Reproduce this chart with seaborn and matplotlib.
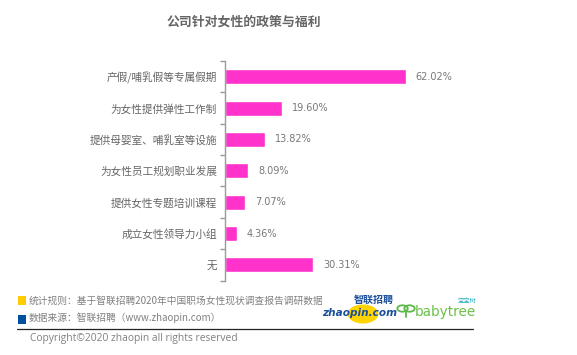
import matplotlib
matplotlib.use("Agg")
import matplotlib.pyplot as plt
import seaborn as sns
import pandas as pd
from matplotlib.patches import Rectangle, Circle
from matplotlib.lines import Line2D

categories = ["产假/哺乳假等专属假期", "为女性提供弹性工作制", "提供母婴室、哺乳室等设施",
              "为女性员工规划职业发展", "提供女性专题培训课程", "成立女性领导力小组", "无"]
values = [62.02, 19.60, 13.82, 8.09, 7.07, 4.36, 30.31]
value_labels = ["62.02%", "19.60%", "13.82%", "8.09%", "7.07%", "4.36%", "30.31%"]

title = "公司针对女性的政策与福利"
note1 = "统计规则：基于智联招聘2020年中国职场女性现状调查报告调研数据"
note2 = "数据来源：智联招聘（www.zhaopin.com）"
copyright_text = "Copyright©2020 zhaopin all rights reserved"

sns.set_theme(style="white")
plt.rcParams['font.family'] = ['Noto Sans CJK SC', 'DejaVu Sans']

W, H = 577, 355
fig = plt.figure(figsize=(W / 100, H / 100), dpi=100)

def fx(x):
    return x / W

def fy(y):
    return 1 - y / H

left_px, right_px, top_px, bottom_px = 224.5, 517.0, 61.0, 280.6
ax = fig.add_axes([fx(left_px), fy(bottom_px), fx(right_px - left_px), (bottom_px - top_px) / H])

df = pd.DataFrame({"category": categories, "value": values})
sns.barplot(data=df, y="category", x="value", orient="h", color="#FF33CC",
            saturation=1, width=0.48, ax=ax)

ax.set_xlim(0, 100)
ax.set_ylim(len(categories) - 0.5, -0.5)
ax.set_xlabel("")
ax.set_ylabel("")
ax.set_xticks([])
for s in ["top", "right", "bottom"]:
    ax.spines[s].set_visible(False)
ax.spines["left"].set_color("#9a9a9a")
ax.spines["left"].set_linewidth(1.0)

ax.set_yticks(range(len(categories)))
ax.set_yticklabels(categories, fontsize=7.7, color="#666666")
ax.tick_params(axis="y", which="major", length=0, pad=5.5)
ax.set_yticks([i - 0.5 for i in range(len(categories) + 1)], minor=True)
ax.tick_params(axis="y", which="minor", length=3.5, width=1.0, color="#9a9a9a", left=True)

for i, (v, lab) in enumerate(zip(values, value_labels)):
    ax.annotate(lab, xy=(v, i), xytext=(7, 0), textcoords="offset points",
                ha="left", va="center", fontsize=7, color="#777777",
                family=["DejaVu Sans"])

fig.text(fx(244), fy(22), title, ha="center", va="center", fontsize=9.3,
         fontweight="bold", color="#666666")

# footer
fig.patches.append(Rectangle((fx(17.5), fy(304.5)), fx(8.5), 8.5 / H, transform=fig.transFigure,
                             facecolor="#FFCC00", edgecolor="none"))
fig.patches.append(Rectangle((fx(17.5), fy(323.5)), fx(8.5), 8.5 / H, transform=fig.transFigure,
                             facecolor="#0050A0", edgecolor="none"))
fig.text(fx(29), fy(300.5), note1, ha="left", va="center", fontsize=7.0, color="#808080")
fig.text(fx(29), fy(318), note2, ha="left", va="center", fontsize=7.0, color="#808080")
fig.lines.append(Line2D([fx(17), fx(473)], [fy(328.5), fy(328.5)], transform=fig.transFigure,
                        color="#222222", linewidth=0.9))
fig.text(fx(30), fy(338), copyright_text, ha="left", va="center", fontsize=7.4,
         color="#808080", family=["Open Sans", "DejaVu Sans"])

# logos (approximation)
fig.patches.append(Circle((fx(363), fy(314)), 9.5 / H, transform=fig.transFigure,
                          facecolor="#FFD400", edgecolor="none"))
fig.text(fx(374), fy(300), "智联招聘", ha="center", va="center", fontsize=7.2,
         fontweight="bold", color="#1B4F9B", style="italic")
fig.text(fx(360), fy(312.5), "zhaopin.com", ha="center", va="center", fontsize=7.6,
         fontweight="bold", color="#1B4F9B", style="italic", family=["DejaVu Sans"])
# babytree icon drawn as shapes
for cx in (402.5, 409.5):
    fig.patches.append(Circle((fx(cx), fy(308.5)), 3.2 / H, transform=fig.transFigure,
                              facecolor="none", edgecolor="#5DB84A", linewidth=1.3))
fig.lines.append(Line2D([fx(406), fx(406)], [fy(312), fy(317)], transform=fig.transFigure,
                        color="#5DB84A", linewidth=1.3))
fig.text(fx(445), fy(312), "babytree", ha="center", va="center", fontsize=9.8,
         color="#6CC04A", family=["DejaVu Sans"])
fig.text(fx(467), fy(301), "宝宝树", ha="center", va="center", fontsize=4.5, color="#30B0C0")

fig.savefig("out.png", dpi=100)
